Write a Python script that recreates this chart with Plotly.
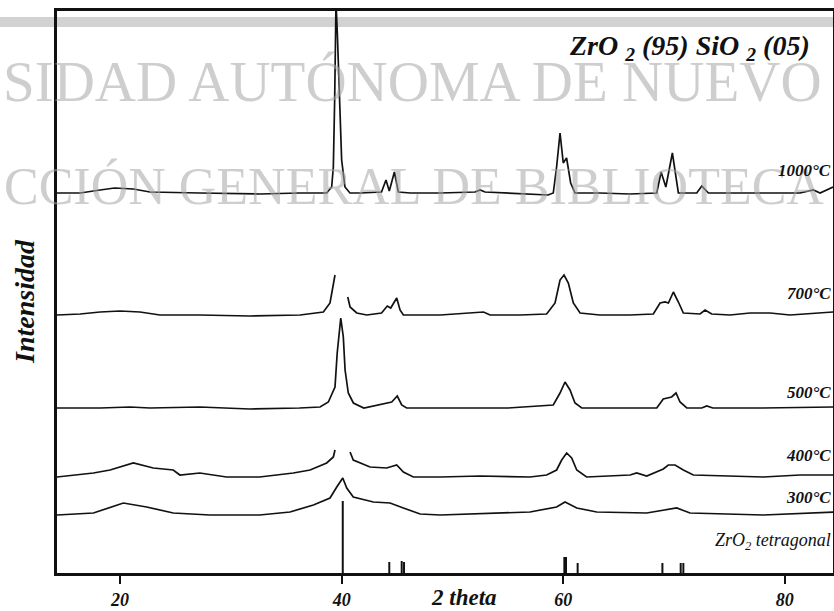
import plotly.graph_objects as go

# ---------------- data (2 theta, intensity relative to each pattern's baseline) ----------------
tt_1000 = [14.3, 16.4, 18.2, 19.5, 21.2, 22.7, 27.2, 32.6, 36.2, 38.05, 38.65, 39.1, 39.25, 39.37, 39.42, 39.49,
           39.61, 39.79, 40.0, 40.3, 40.75, 41.7, 43.6, 44.0, 44.3, 44.76, 45.12, 46.2, 48.9, 52.04, 52.5, 52.94,
           56.1, 58.63, 59.1, 59.4, 59.71, 60.0, 60.3, 60.67, 61.06, 63.3, 66.0, 68.44, 68.83, 69.26, 69.85, 70.39,
           72.05, 72.5, 73.1, 75.96, 81.37, 82.57, 83.18, 84.35]
int_1000 = [0, 0, 3, 5, 4, 1, 0, -1, 0, 0, 0, 6, 26, 93, 160, 190,
            160, 93, 33, 6, 0, 0, 1, 13, 2, 21, 1, 0, 0, 1, 3, 1,
            -1, -2, 0, 26, 60, 30, 35, 10, 0, 0, -1, 0, 21, 6, 40, 0,
            0, 7, 0, 0, 0, 3, 0, 6]

tt_700 = [14.3, 16.4, 18.2, 20.0, 21.8, 23.6, 27.2, 31.7, 36.25, 37.6, 38.35, 38.95, 39.15, 39.4, None,
          40.55, 40.76, 41.36, 42.27, 43.6, 44.12, 44.43, 44.97, 45.27, 45.57, 48.9, 52.8, 53.4, 56.1, 58.5,
          59.26, 59.71, 60.07, 60.46, 60.91, 61.52, 63.3, 66.0, 68.13, 68.74, 69.19, 69.49, 69.94, 70.39, 70.84,
          72.35, 72.8, 73.4, 75.05, 76.86, 78.66, 80.47, 83.18, 84.35]
int_700 = [0, 1, 3, 4, 3, 0, 0, -1, 0, 2, 3, 12, 25, 40, None,
           18, 8, 2, 0, 2, 9, 7, 17, 5, 0, 0, 3, 0, 0, 1,
           12, 35, 40, 32, 12, 2, 0, 0, 1, 12, 13, 12, 23, 13, 2,
           1, 5, 1, 0, 2, 2, 0, 2, 3]

tt_500 = [14.3, 18.2, 20.9, 22.7, 27.2, 31.7, 36.2, 38.05, 38.8, 39.4, 39.6, 39.79, 39.92, 40.15, 40.31, 40.6,
          41.06, 42.0, 44.07, 44.52, 45.02, 45.42, 45.87, 50.0, 55.0, 59.1, 59.71, 60.16, 60.61, 61.06, 61.67,
          65.0, 68.44, 69.03, 69.48, 69.78, 70.18, 70.54, 71.15, 72.5, 72.95, 73.5, 78.0, 84.35]
int_500 = [0, 0, 1, 0, 1, -1, 0, 1, 6, 21, 55, 81, 90, 71, 38, 15,
           5, 0, 5, 6, 12, 3, 0, 0, 0, 3, 15, 26, 18, 5, 0,
           0, 0, 9, 10, 11, 15, 6, 0, 0, 2, 0, 0, 1]

tt_400 = [14.3, 17.6, 19.1, 21.2, 23.0, 24.8, 25.4, 27.2, 29.6, 32.6, 35.64, 37.15, 38.65, 39.25, 39.4, None,
          40.76, 41.05, 42.56, 44.07, 44.97, 45.57, 46.47, 48.9, 52.5, 57.0, 58.5, 59.4, 59.86, 60.31, 60.76,
          61.22, 62.1, 66.03, 66.63, 67.53, 69.03, 69.48, 70.09, 70.84, 71.74, 78.06, 81.37, 84.4]
int_400 = [0, 4, 7, 14, 9, 7, 2, 4, 0, 0, 4, 7, 14, 20, 27, None,
           25, 17, 10, 9, 12, 5, 0, 0, 1, 0, 2, 7, 17, 24, 19,
           7, 0, 2, 4, 1, 8, 12, 12, 7, 2, 0, 2, 2]

tt_300 = [14.3, 17.6, 20.3, 22.4, 24.8, 28.1, 32.6, 35.34, 37.45, 38.95, 39.56, 40.1, 40.46, 41.05, 42.86, 44.37,
          45.57, 47.08, 48.9, 57.0, 59.4, 60.16, 61.22, 63.02, 67.53, 69.03, 70.24, 71.44, 78.06, 84.4]
int_300 = [0, 2, 12, 8, 2, 0, 0, 3, 10, 17, 28, 37, 27, 18, 13, 12,
           7, 1, 0, 3, 8, 13, 7, 3, 2, 5, 7, 2, 0, 3]

# ZrO2 tetragonal reference lines
ref_tt = [40.1, 44.3, 45.42, 45.63, 60.1, 60.25, 61.3, 68.95, 70.6, 70.84]
ref_int = [72, 11, 12, 11, 16, 16, 10, 10, 10, 10]

pattern_names = ["1000°C", "700°C", "500°C", "400°C", "300°C"]
pattern_offsets = [380, 258, 165, 96, 58]

x_tick_vals = [20, 40, 60, 80]
x_tick_text = ["20", "40", "60", "80"]

# ---------------- layout geometry ----------------
W, H = 834, 611
L, R, T, B = 57, 1, 11, 38
PW, PH = W - L - R, H - T - B


def px(xp):
    return (xp - L) / PW


def py(yp):
    return (H - B - yp) / PH


fig = go.Figure()

series = [(tt_1000, int_1000), (tt_700, int_700), (tt_500, int_500), (tt_400, int_400), (tt_300, int_300)]
for (tt, it), name, off in zip(series, pattern_names, pattern_offsets):
    yv = [None if v is None else v + off for v in it]
    fig.add_trace(go.Scatter(x=tt, y=yv, mode="lines", name=name, connectgaps=False,
                             line=dict(color="#111111", width=1.7), showlegend=False))

# reference sticks
sx, sy = [], []
for t, h in zip(ref_tt, ref_int):
    sx += [t, t, None]
    sy += [0, h, None]
fig.add_trace(go.Scatter(x=sx, y=sy, mode="lines", line=dict(color="#111111", width=2), showlegend=False))

serif = "Liberation Serif, Times New Roman, serif"

fig.update_layout(
    width=W, height=H,
    margin=dict(l=L, r=R, t=T, b=B, autoexpand=False),
    paper_bgcolor="white", plot_bgcolor="rgba(0,0,0,0)",
    xaxis=dict(range=[14.31, 14.31 + PW / 11.08], showgrid=False, zeroline=False, automargin=False,
               showline=True, mirror=True, linewidth=3, linecolor="#111111",
               ticks="outside", ticklen=8, tickwidth=2, tickcolor="#111111",
               tickvals=x_tick_vals, ticktext=["<b><i>" + t + "</i></b>" for t in x_tick_text],
               tickfont=dict(family=serif, size=18, color="#111111")),
    yaxis=dict(range=[0, PH], showgrid=False, zeroline=False, showticklabels=False, automargin=False,
               showline=True, mirror=True, linewidth=3, linecolor="#111111", ticks=""),
)

# gray band (scan artefact) under traces
fig.add_shape(type="rect", xref="paper", yref="paper", x0=px(-5), x1=px(W + 5), y0=py(27), y1=py(17),
              fillcolor="#d2d2d2", line=dict(width=0), layer="below")

ann = []
# watermark
ann.append(dict(text="SIDAD AUTÓNOMA DE NUEVO", x=px(1), y=py(82), xanchor="left", yanchor="middle",
                font=dict(family=serif, size=57, color="rgba(165,165,165,0.55)")))
ann.append(dict(text="CCIÓN GENERAL DE BIBLIOTECA", x=px(2), y=py(186), xanchor="left", yanchor="middle",
                font=dict(family=serif, size=52, color="rgba(165,165,165,0.55)")))
# title
ann.append(dict(text="<b><i>ZrO <sub>2</sub> (95) SiO <sub>2</sub> (05)</i></b>", x=px(689), y=py(48),
                xanchor="center", yanchor="middle", font=dict(family=serif, size=28, color="#111111")))
# pattern labels
label_y = [170, 293, 393, 455, 497]
for name, ly in zip(pattern_names, label_y):
    ann.append(dict(text="<b><i>" + name + "</i></b>", x=px(833), y=py(ly), xanchor="right", yanchor="middle",
                    font=dict(family=serif, size=17, color="#111111")))
ann.append(dict(text="<i>ZrO<sub>2</sub> tetragonal</i>", x=px(833), y=py(541), xanchor="right", yanchor="middle",
                font=dict(family=serif, size=18, color="#111111")))
# axis titles
ann.append(dict(text="<b><i>2 theta</i></b>", x=px(464), y=py(597), xanchor="center", yanchor="middle",
                font=dict(family=serif, size=23, color="#111111")))
ann.append(dict(text="<b><i>Intensidad</i></b>", x=px(24), y=py(302), xanchor="center", yanchor="middle",
                textangle=-90, font=dict(family=serif, size=28, color="#111111")))

for a in ann:
    a.update(xref="paper", yref="paper", showarrow=False)
    fig.add_annotation(**a)

fig.write_html("out.html")
